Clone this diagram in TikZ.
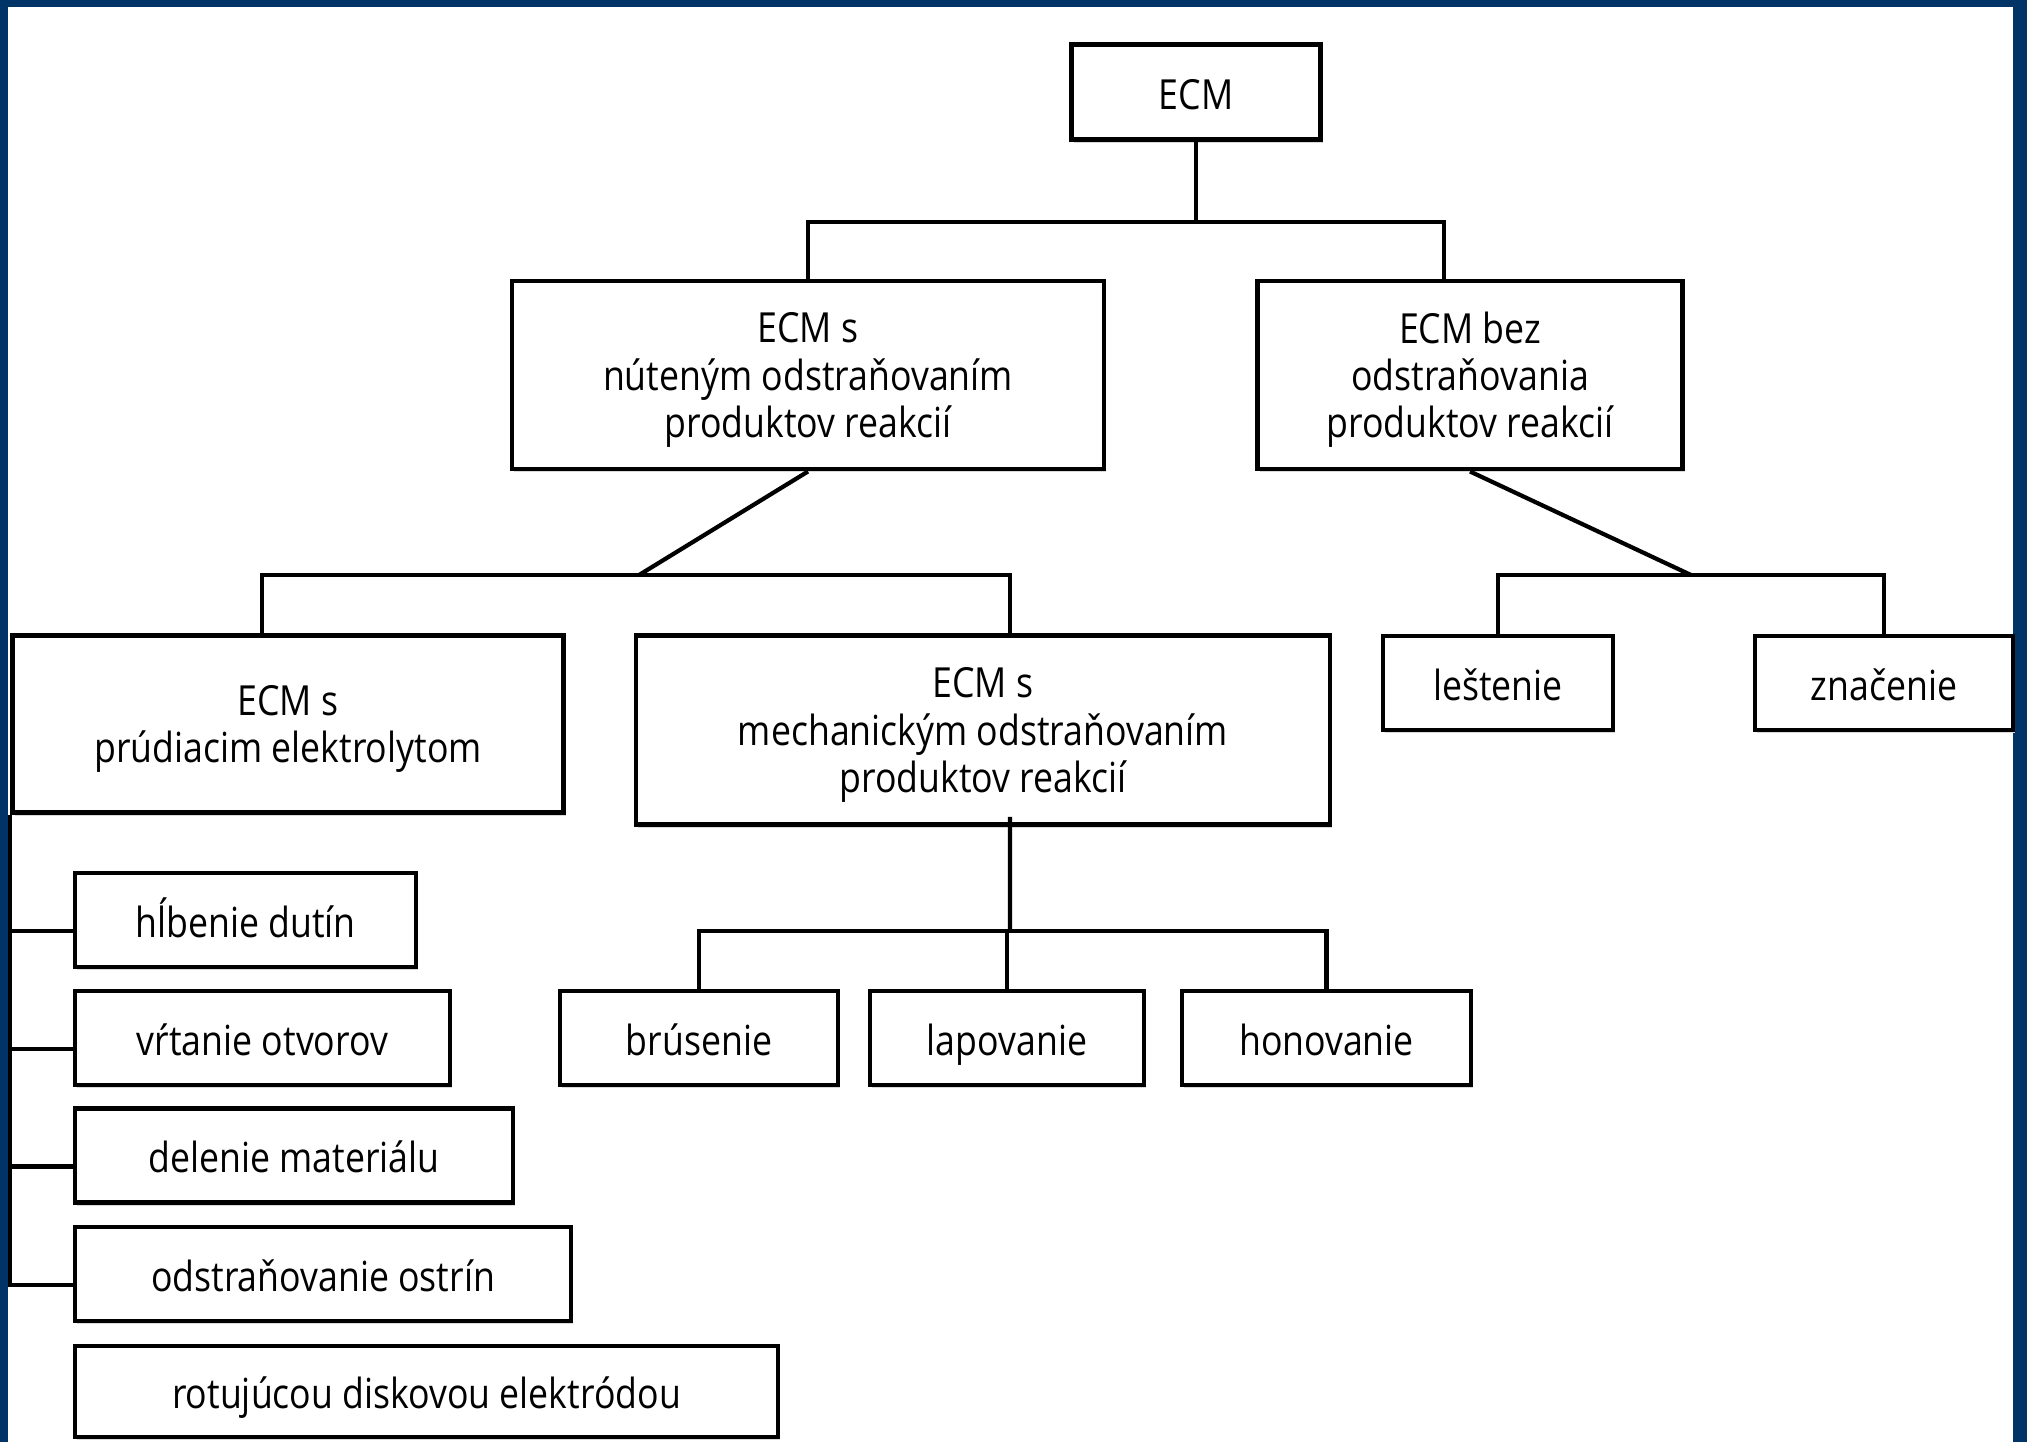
\documentclass[tikz,border=0pt]{standalone}
\usepackage{fontspec}
\setmainfont[FakeStretch=0.86]{Open Sans}
\usetikzlibrary{shadows}
\definecolor{frameblue}{RGB}{0,51,102}

\begin{document}
\begin{tikzpicture}[box/.style={shape=rectangle,draw=black,fill=white,line width=1.4pt,align=center,inner sep=0pt,
        font=\fontsize{11.8}{13.4}\selectfont,
        general shadow={fill=black!15,shadow xshift=0.02cm,shadow yshift=-0.03cm}},
    oneline/.style={box,text height=9.8pt,text depth=0pt},
    manyline/.style={box,text depth=-1.6pt},
    link/.style={line width=1.2pt}]
    \useasboundingbox (0,0) rectangle (20.27,-14.42);
    \fill[frameblue] (0,0) rectangle (20.27,-14.42);
    \fill[white] (0.08,-0.07) rectangle (20.13,-14.42);

    \node[oneline,minimum width=2.49cm,minimum height=0.95cm] (ecm) at (11.96,-0.92) {ECM};
    \node[manyline,minimum width=5.92cm,minimum height=1.88cm] (nut) at (8.08,-3.75) {ECM s\\núteným odstraňovaním\\produktov reakcií};
    \node[manyline,minimum width=4.25cm,minimum height=1.88cm] (bez) at (14.70,-3.75) {ECM bez\\odstraňovania\\produktov reakcií};

    \node[manyline,minimum width=5.51cm,minimum height=1.77cm] (prud) at (2.88,-7.24) {ECM s\\prúdiacim elektrolytom};
    \node[manyline,minimum width=6.94cm,minimum height=1.89cm] (mech) at (9.83,-7.30) {ECM s\\mechanickým odstraňovaním\\produktov reakcií};
    \node[oneline,minimum width=2.30cm,minimum height=0.94cm] (lest) at (14.98,-6.83) {leštenie};
    \node[oneline,minimum width=2.58cm,minimum height=0.94cm] (znac) at (18.84,-6.83) {značenie};

    \node[oneline,minimum width=3.41cm,minimum height=0.94cm] (hlb) at (2.455,-9.20) {hĺbenie dutín};
    \node[oneline,minimum width=3.75cm,minimum height=0.94cm] (vrt) at (2.625,-10.38) {vŕtanie otvorov};
    \node[oneline,minimum width=4.38cm,minimum height=0.94cm] (del) at (2.94,-11.555) {delenie materiálu};
    \node[oneline,minimum width=4.96cm,minimum height=0.94cm] (ost) at (3.23,-12.74) {odstraňovanie ostrín};
    \node[oneline,minimum width=7.03cm,minimum height=0.91cm] (rot) at (4.265,-13.915) {rotujúcou diskovou elektródou};

    \node[oneline,minimum width=2.78cm,minimum height=0.94cm] (brus) at (6.99,-10.38) {brúsenie};
    \node[oneline,minimum width=2.74cm,minimum height=0.94cm] (lap) at (10.07,-10.38) {lapovanie};
    \node[oneline,minimum width=2.89cm,minimum height=0.94cm] (hon) at (13.265,-10.38) {honovanie};

    \coordinate (j0) at (11.96,-2.22);
    \coordinate (j1) at (6.39,-5.75);
    \coordinate (j2) at (16.91,-5.75);
    \coordinate (j3) at (10.10,-9.31);

    \draw[link] (ecm.south) -- (j0) -| (nut.north);
    \draw[link] (j0) -| ([xshift=-0.26cm]bez.north);

    \draw[link] (nut.south) -- (j1);
    \draw[link] ([xshift=-0.26cm]prud.north) |- (j1) -| ([xshift=0.27cm]mech.north);
    \draw[link] (bez.south) -- (j2);
    \draw[link] (lest.north) |- (j2) -| (znac.north);

    \draw[link] ([xshift=0.27cm,yshift=0.1cm]mech.south) -- (j3);
    \draw[link] (brus.north) |- (j3) -| (hon.north);
    \draw[link] (lap.north |- j3) -- (lap.north);

    \foreach \n in {hlb,vrt,del,ost}
        \draw[link] (prud.south west) |- ([yshift=-0.11cm]\n.west);   % side branches
\end{tikzpicture}
\end{document}
